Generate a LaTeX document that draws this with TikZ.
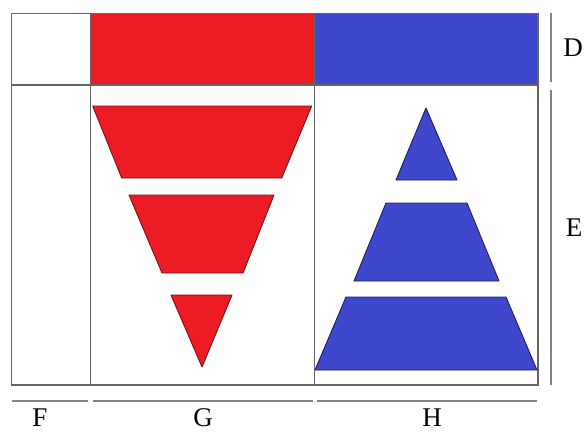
\documentclass[tikz,border=0pt]{standalone}
\usepackage{fontspec}
\setmainfont{Liberation Serif}
\definecolor{rfill}{RGB}{237,28,36}
\definecolor{bfill}{RGB}{63,72,204}
\definecolor{rline}{RGB}{110,20,25}
\definecolor{bline}{RGB}{30,30,90}
\definecolor{frame}{RGB}{100,100,100}
\begin{document}
\begin{tikzpicture}[x=1pt,y=-1pt,
  frameline/.style={draw=frame,line width=1.3pt},
  innerline/.style={draw=frame,line width=1pt},
  rulerline/.style={draw=frame!80,line width=1.3pt},
  redshape/.style={fill=rfill,draw=rline,line width=0.9pt,line join=round},
  blueshape/.style={fill=bfill,draw=bline,line width=0.9pt,line join=round},
  lbl/.style={font=\fontsize{27}{27}\selectfont,inner sep=0pt}]
\useasboundingbox (0,0) rectangle (584,432);
\fill[white] (0,0) rectangle (584,432);
% top bars
\filldraw[redshape] (90,13.5) rectangle (314.5,85);
\filldraw[blueshape] (314.5,13.5) rectangle (538,85);
% frame
\draw[frameline] (11.7,13.5) rectangle (538,385);
\draw[frameline] (11.7,85) -- (538,85);
\draw[innerline] (90,13.5) -- (90,385);
\draw[innerline] (314.5,13.5) -- (314.5,385);
% red inverted pyramid
\filldraw[redshape] (92.7,106) -- (311.7,106) -- (281.7,178) -- (121.7,178) -- cycle;
\filldraw[redshape] (129,195) -- (274,195) -- (243,273) -- (162,273) -- cycle;
\filldraw[redshape] (171,295) -- (232,295) -- (202,367) -- cycle;
% blue pyramid
\filldraw[blueshape] (426,108) -- (457,180) -- (396,180) -- cycle;
\filldraw[blueshape] (386,203) -- (467,203) -- (499,281) -- (354,281) -- cycle;
\filldraw[blueshape] (346,297) -- (506,297) -- (537,370) -- (315,370) -- cycle;
% right rulers
\draw[rulerline] (551,13) -- (551,82);
\draw[rulerline] (551,90) -- (551,385);
% bottom rulers
\draw[rulerline] (12,401) -- (88,401);
\draw[rulerline] (93,401) -- (313,401);
\draw[rulerline] (317,401) -- (537,401);
% labels
\node[lbl] (D) at (573,48) {D};
\node[lbl] (E) at (574,228) {E};
\node[lbl] (F) at (40,418) {F};
\node[lbl] (G) at (203,418) {G};
\node[lbl] (H) at (432,418) {H};
\end{tikzpicture}
\end{document}
